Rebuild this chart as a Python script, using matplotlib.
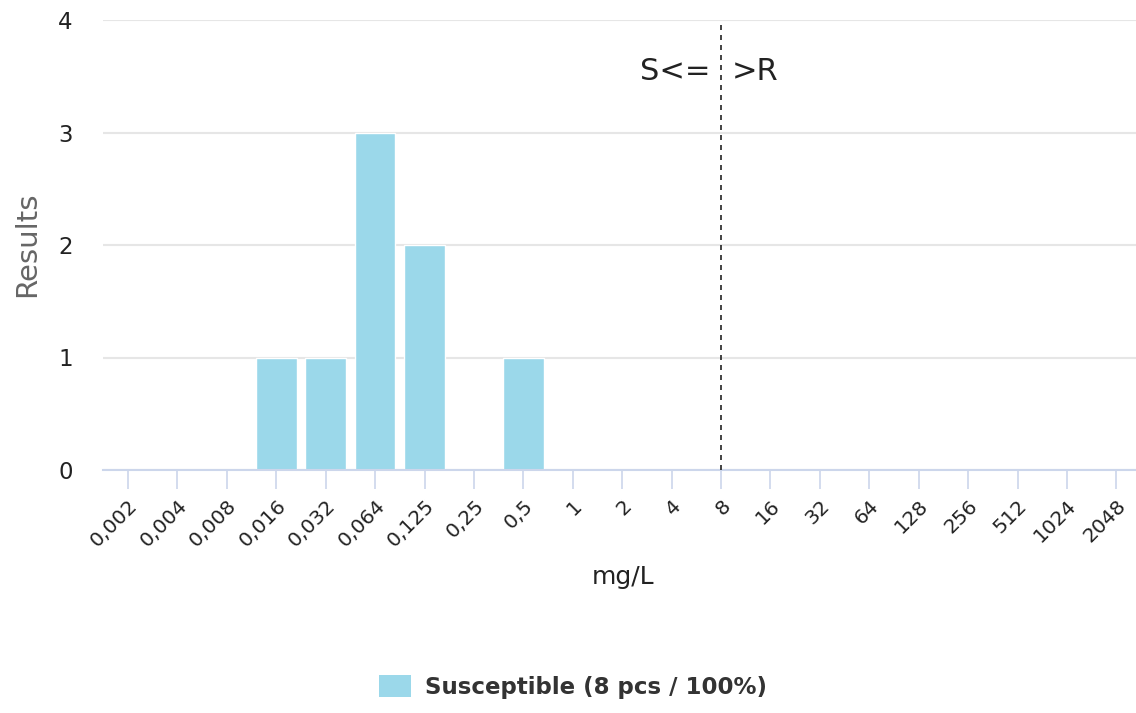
import matplotlib
matplotlib.use("Agg")
import matplotlib.pyplot as plt
from matplotlib.patches import Patch

# MIC classes (mg/L) and counts
categories = ['0,002', '0,004', '0,008', '0,016', '0,032', '0,064', '0,125', '0,25', '0,5',
              '1', '2', '4', '8', '16', '32', '64', '128', '256', '512', '1024', '2048']
susceptible = [0, 0, 0, 1, 1, 3, 2, 0, 1, 0, 0, 0, 0, 0, 0, 0, 0, 0, 0, 0, 0]
breakpoint_cat = '8'
y_ticks = [0, 1, 2, 3, 4]
legend_label = 'Susceptible (8 pcs / 100%)'

bar_color = '#9bd8ea'
axis_color = '#ccd6eb'
grid_color = '#e6e6e6'

plt.rcParams['font.family'] = ['DejaVu Sans']

fig = plt.figure(figsize=(11.36, 7.13), dpi=100)
# axes runs a bit past the right edge, like the original
ax = fig.add_axes([103.3 / 1136, 1 - 470 / 713, 1037.8 / 1136, 450 / 713])

x = list(range(len(categories)))
ax.bar(x, susceptible, width=0.82, color=bar_color, edgecolor='white', linewidth=1, zorder=3)

ax.set_xlim(-0.5, len(categories) - 0.5)
ax.set_ylim(0, 4)
ax.set_yticks(y_ticks)
ax.set_yticklabels([str(v) for v in y_ticks])
ax.set_xticks(x)
ax.set_xticklabels(categories, rotation=45, ha='right', va='top', rotation_mode='anchor')

for s in ['top', 'right', 'left']:
    ax.spines[s].set_visible(False)
ax.spines['bottom'].set_color(axis_color)
ax.spines['bottom'].set_linewidth(1.5)
ax.spines['bottom'].set_zorder(4)

ax.tick_params(axis='y', length=0, pad=22, labelsize=16.5, labelcolor='#222222')
ax.tick_params(axis='x', length=14, width=1.2, color=axis_color, pad=5,
               labelsize=14.5, labelcolor='#222222')

ax.yaxis.grid(True, color=grid_color, linewidth=1.5, zorder=0)
ax.set_axisbelow(True)

# breakpoint line
bx = categories.index(breakpoint_cat)
ax.axvline(bx, color='#222222', linestyle=(0, (3, 3)), linewidth=1.2, zorder=5)
ax.text(bx - 0.22, 3.54, 'S<=', ha='right', va='center', fontsize=22, color='#222222')
ax.text(bx + 0.22, 3.54, '>R', ha='left', va='center', fontsize=22, color='#222222')

fig.text(27 / 1136, 1 - 244 / 713, 'Results', rotation=90, ha='center', va='center',
         fontsize=21, color='#666666')
fig.text(623 / 1136, 1 - 577 / 713, 'mg/L', ha='center', va='center', fontsize=18, color='#222222')

handles = [Patch(facecolor=bar_color, edgecolor='none', label=legend_label)]
fig.legend(handles=handles, loc='center', bbox_to_anchor=(573 / 1136, 1 - 687 / 713),
           frameon=False, prop={'weight': 'bold', 'size': 16.5}, labelcolor='#333333',
           handlelength=1.4, handleheight=1.1, handletextpad=0.6)

fig.savefig('out.png', dpi=100)
